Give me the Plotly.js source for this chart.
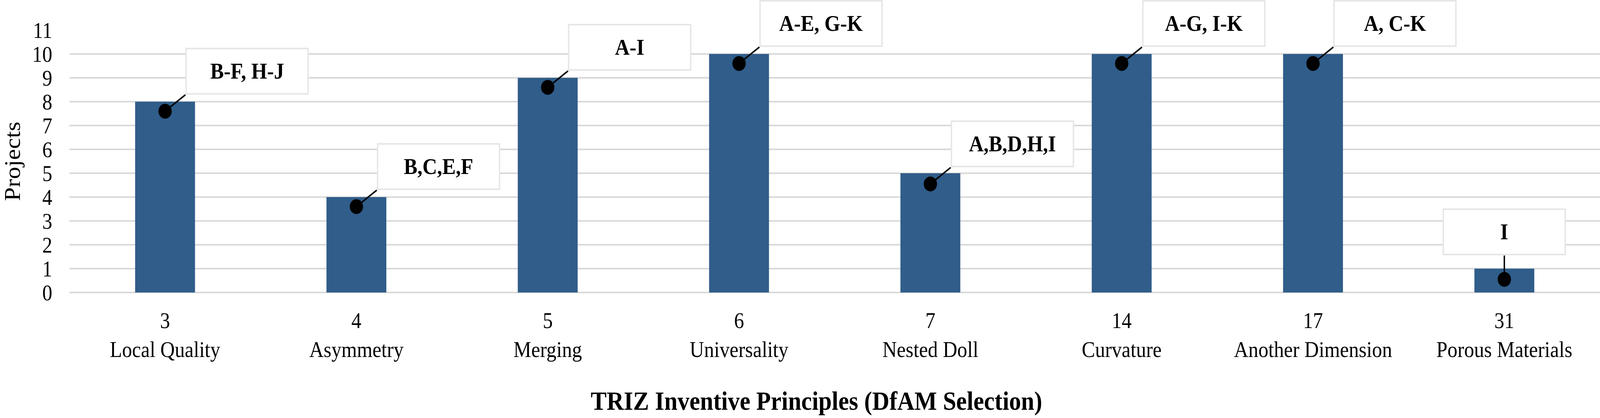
<!DOCTYPE html>
<html>
<head>
<meta charset="utf-8">
<script src="https://cdn.plot.ly/plotly-3.0.1.min.js"></script>
<style>
  html, body { margin: 0; padding: 0; background: #fff; overflow: hidden; }
  #plot { width: 4564px; height: 1069px; transform-origin: 0 0; }
</style>
</head>
<body>
<div id="plot"></div>
<script>
// TRIZ principles used in the DfAM selection
var principleNums = ['3', '4', '5', '6', '7', '14', '17', '31'];
var principleNames = ['Local Quality', 'Asymmetry', 'Merging', 'Universality',
                      'Nested Doll', 'Curvature', 'Another Dimension', 'Porous Materials'];
var projectCounts = [8, 4, 9, 10, 5, 10, 10, 1];
var projectLabels = ['B-F, H-J', 'B,C,E,F', 'A-I', 'A-E, G-K',
                     'A,B,D,H,I', 'A-G, I-K', 'A, C-K', 'I'];
// where the callout dot sits on each bar
var dotValues = [7.6, 3.6, 8.6, 9.6, 4.55, 9.6, 9.6, 0.55];

var W = 4564, H = 1069;
var serif = 'Liberation Serif, Times New Roman, serif';
var cats = principleNums.map((n, i) => n + '<br>' + principleNames[i]);

// the window can be narrower than the chart: squeeze it to fit
var plotDiv = document.getElementById('plot');
var sx = Math.min(1, window.innerWidth / W);
var sy = Math.min(1, window.innerHeight / H);
plotDiv.style.transform = 'scale(' + sx + ',' + sy + ')';

var bars = {
  x: cats,
  y: projectCounts,
  type: 'bar',
  marker: {color: '#305d8a'},
  hoverinfo: 'none'
};

var dots = {
  x: cats,
  y: dotValues,
  type: 'scatter',
  mode: 'markers',
  marker: {color: '#000', size: 38},
  hoverinfo: 'none'
};

// callout boxes; the last one sits straight above its bar
var callouts = projectLabels.map(function (lab, i) {
  var centred = (i === projectLabels.length - 1);
  return {
    x: cats[i],
    y: dotValues[i],
    xref: 'x', yref: 'y',
    text: '<b>' + lab + '</b>',
    font: {family: serif, size: 58, color: '#000'},
    showarrow: true,
    arrowhead: 0,
    arrowwidth: 4,
    arrowcolor: '#000',
    standoff: 0,
    ax: centred ? 0 : 58,
    ay: centred ? -61 : -42,
    xanchor: centred ? 'center' : 'left',
    yanchor: 'bottom',
    width: 344,
    height: 112,
    bgcolor: '#fff',
    bordercolor: '#e6e6e6',
    borderwidth: 4,
    borderpad: 0
  };
});

callouts.push({
  xref: 'paper', yref: 'paper',
  x: 0.488, y: -0.413,
  xanchor: 'center', yanchor: 'middle',
  showarrow: false,
  text: '<b>TRIZ Inventive Principles (DfAM Selection)</b>',
  font: {family: serif, size: 68, color: '#000'}
});

var layout = {
  width: W,
  height: H,
  margin: {l: 198, r: 0, t: 77, b: 321},
  paper_bgcolor: '#fff',
  plot_bgcolor: '#fff',
  showlegend: false,
  bargap: 0.687,
  font: {family: serif, size: 57, color: '#000'},
  xaxis: {
    type: 'category',
    showgrid: false,
    showline: false,
    ticks: '',
    ticklabelstandoff: 33,
    tickfont: {family: serif, size: 57, color: '#000'}
  },
  yaxis: {
    range: [0, 11],
    dtick: 1,
    showgrid: true,
    gridcolor: '#d9d9d9',
    gridwidth: 4,
    zeroline: true,
    zerolinecolor: '#d9d9d9',
    zerolinewidth: 4,
    showline: false,
    ticks: '',
    ticklabelstandoff: 48,
    tickfont: {family: serif, size: 57, color: '#000'},
    title: {text: 'Projects', font: {family: serif, size: 63, color: '#000'}, standoff: 14}
  },
  annotations: callouts
};

Plotly.newPlot('plot', [bars, dots], layout, {displayModeBar: false, staticPlot: true});
</script>
</body>
</html>
